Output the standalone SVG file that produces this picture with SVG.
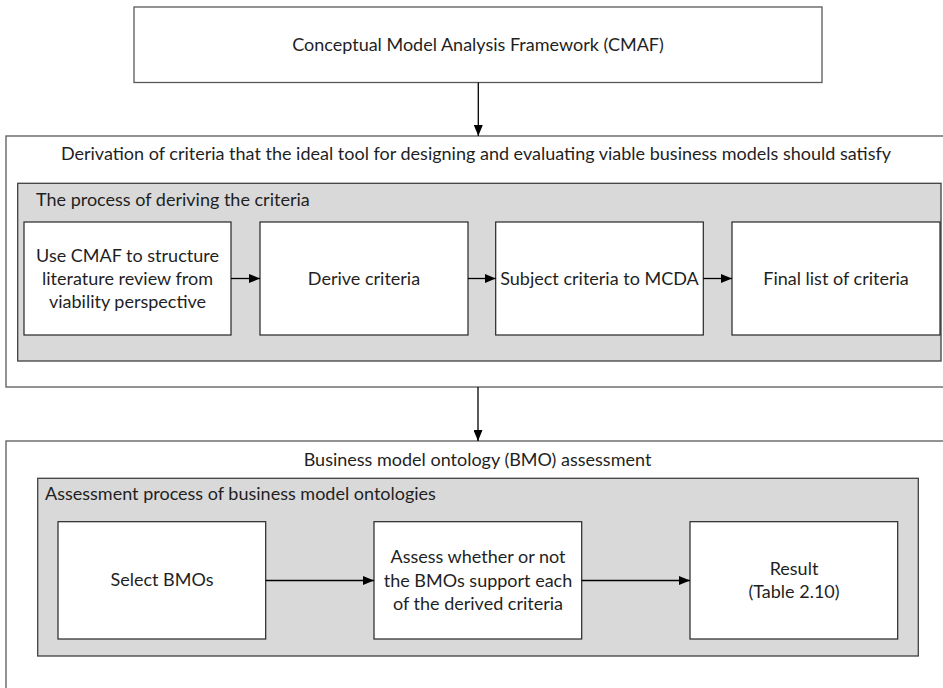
<svg xmlns="http://www.w3.org/2000/svg" width="943" height="688" viewBox="0 0 943 688">
  <style>
    .frame { fill: #ffffff; stroke: #595959; stroke-width: 1.3; }
    .panel { fill: #d9d9d9; stroke: #404040; stroke-width: 1.3; }
    .step { fill: #ffffff; stroke: #262626; stroke-width: 1.2; }
    .label { font-family: "Lato", "Liberation Sans", sans-serif; font-size: 18px; fill: #1f1f1f; }
    .mid { text-anchor: middle; }
    .link { stroke: #000000; stroke-width: 1.3; fill: none; marker-end: url(#head); }
  </style>
  <defs>
    <marker id="head" viewBox="0 0 11 9" refX="11" refY="4.5" markerWidth="11" markerHeight="9" markerUnits="userSpaceOnUse" orient="auto">
      <path d="M0,0 L11,4.5 L0,9 Z" fill="#000000"/>
    </marker>
  </defs>

  <!-- Top framework box -->
  <g id="cmaf">
    <rect class="frame" x="134" y="7" width="688" height="75.5"/>
    <text class="label mid" x="478" y="51">Conceptual Model Analysis Framework (CMAF)</text>
  </g>

  <!-- Criteria derivation stage -->
  <g id="derivation">
    <rect class="frame" x="6" y="136" width="950" height="251"/>
    <text class="label mid" x="476" y="160">Derivation of criteria that the ideal tool for designing and evaluating viable business models should satisfy</text>
  </g>
  <g id="deriving-process">
    <rect class="panel" x="17.7" y="183.3" width="923.3" height="177.7"/>
    <text class="label" x="36" y="206">The process of deriving the criteria</text>
  </g>
  <g id="use-cmaf">
    <rect class="step" x="24" y="222" width="207" height="113"/>
    <text class="label mid" x="127.5" y="262">Use CMAF to structure</text>
    <text class="label mid" x="127.5" y="285">literature review from</text>
    <text class="label mid" x="127.5" y="308">viability perspective</text>
  </g>
  <g id="derive-criteria">
    <rect class="step" x="260" y="222" width="208" height="113"/>
    <text class="label mid" x="364" y="285">Derive criteria</text>
  </g>
  <g id="mcda">
    <rect class="step" x="495.7" y="222" width="207.6" height="113"/>
    <text class="label mid" x="599.5" y="285">Subject criteria to MCDA</text>
  </g>
  <g id="final-list">
    <rect class="step" x="732" y="222" width="208" height="113"/>
    <text class="label mid" x="836" y="285">Final list of criteria</text>
  </g>

  <!-- BMO assessment stage -->
  <g id="bmo-assessment">
    <rect class="frame" x="6" y="441" width="950" height="260"/>
    <text class="label mid" x="477.5" y="466">Business model ontology (BMO) assessment</text>
  </g>
  <g id="assessment-process">
    <rect class="panel" x="37.7" y="478.3" width="880.6" height="177.7"/>
    <text class="label" x="45" y="500">Assessment process of business model ontologies</text>
  </g>
  <g id="select-bmos">
    <rect class="step" x="58" y="521.7" width="207.7" height="117.3"/>
    <text class="label mid" x="162" y="586">Select BMOs</text>
  </g>
  <g id="assess-support">
    <rect class="step" x="374" y="521.7" width="207.7" height="117.3"/>
    <text class="label mid" x="478" y="563">Assess whether or not</text>
    <text class="label mid" x="478" y="587">the BMOs support each</text>
    <text class="label mid" x="478" y="610">of the derived criteria</text>
  </g>
  <g id="result">
    <rect class="step" x="690" y="521.7" width="207.7" height="117.3"/>
    <text class="label mid" x="794" y="575">Result</text>
    <text class="label mid" x="794" y="598">(Table 2.10)</text>
  </g>

  <!-- Connectors -->
  <g id="connectors">
    <line class="link" x1="478.3" y1="82.5" x2="478.3" y2="136"/>
    <line class="link" x1="478" y1="387" x2="478" y2="441"/>
    <line class="link" x1="231" y1="278.5" x2="260" y2="278.5"/>
    <line class="link" x1="468" y1="278.5" x2="495.7" y2="278.5"/>
    <line class="link" x1="703.3" y1="278.5" x2="732" y2="278.5"/>
    <line class="link" x1="265.7" y1="580.5" x2="374" y2="580.5"/>
    <line class="link" x1="581.7" y1="580.5" x2="690" y2="580.5"/>
  </g>
</svg>
